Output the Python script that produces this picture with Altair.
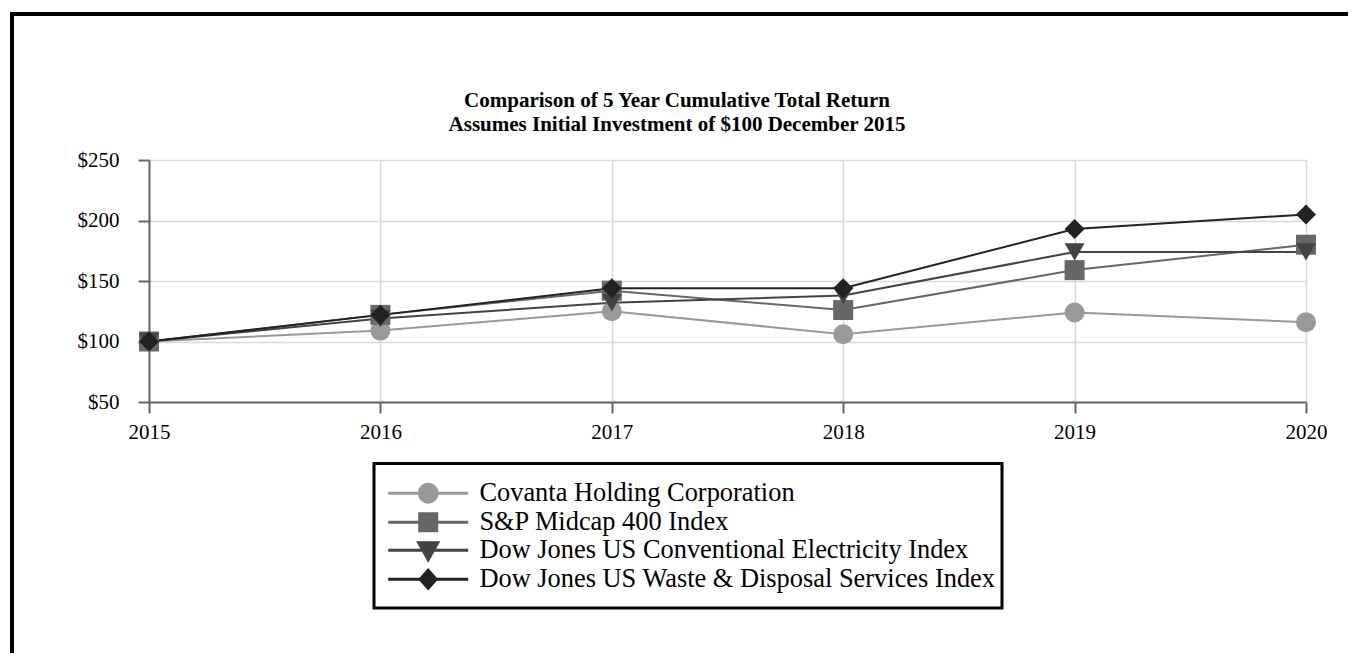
import altair as alt
import pandas as pd

# ---- data ----
years = [2015, 2016, 2017, 2018, 2019, 2020]
series_names = [
    "Covanta Holding Corporation",
    "S&P Midcap 400 Index",
    "Dow Jones US Conventional Electricity Index",
    "Dow Jones US Waste & Disposal Services Index",
]
covanta = [100, 109, 125, 106, 124, 116]
sp400 = [100, 122, 142, 126, 159, 180]
dj_electricity = [100, 119, 132, 138, 174, 174]
dj_waste = [100, 122, 144, 144, 193, 205]
y_ticks = [50, 100, 150, 200, 250]
title_line1 = ["Comparison of 5 Year Cumulative Total Return"]
title_line2 = ["Assumes Initial Investment of $100 December 2015"]

# ---- styles ----
colors = ["#999999", "#676767", "#434343", "#222222"]
marker_shapes = ["circle", "square", "triangle-down", "diamond"]
legend_shapes = [
    "M-4,0H4M0.9,0A0.9,0.9 0 1,1 -0.9,0A0.9,0.9 0 1,1 0.9,0Z",
    "M-4,0H4M-0.85,-0.85H0.85V0.85H-0.85Z",
    "M-4,0H4M-0.95,-0.75H0.95L0,0.95Z",
    "M-4,0H4M0,-0.9L0.8,0L0,0.9L-0.8,0Z",
]
FONT = "Liberation Serif"

rows = []
for name, vals in zip(series_names, [covanta, sp400, dj_electricity, dj_waste]):
    for yr, v in zip(years, vals):
        rows.append({"year": yr, "series": name, "value": v})
df = pd.DataFrame(rows)

x_enc = alt.X(
    "year:Q",
    scale=alt.Scale(domain=[2015, 2020], nice=False, zero=False),
    axis=alt.Axis(values=years, format="d", title=None, grid=True,
                  labelPadding=8, labelFlush=False),
)
y_enc = alt.Y(
    "value:Q",
    scale=alt.Scale(domain=[50, 250], nice=False, zero=False),
    axis=alt.Axis(values=y_ticks, labelExpr="'$' + datum.value", title=None,
                  labelPadding=19, labelFlush=False),
)

base = alt.Chart(df).encode(x=x_enc, y=y_enc)
color_scale = alt.Scale(domain=series_names, range=colors)

lines = base.mark_line(strokeWidth=2).encode(
    color=alt.Color("series:N", scale=color_scale, legend=None)
)
points = base.mark_point(filled=True, size=400, opacity=1).encode(
    color=alt.Color("series:N", scale=color_scale, legend=None),
    shape=alt.Shape("series:N",
                    scale=alt.Scale(domain=series_names, range=marker_shapes),
                    legend=None),
)

leg = alt.Legend(title=None, orient="none", legendX=239, legendY=320)
legend_layer = base.mark_point(filled=True, size=400, opacity=1).encode(
    fill=alt.Fill("series:N", scale=alt.Scale(domain=series_names, range=colors), legend=leg),
    stroke=alt.Stroke("series:N", scale=alt.Scale(domain=series_names, range=colors), legend=leg),
    shape=alt.Shape("series:N", scale=alt.Scale(domain=series_names, range=legend_shapes), legend=leg),
).transform_filter("datum.value < 0")

one = pd.DataFrame({"k": [0]})
frame_top = alt.Chart(one).mark_rule(color="black", strokeWidth=4).encode(
    x=alt.value(-139), x2=alt.value(1199), y=alt.value(-146)
)
frame_left = alt.Chart(one).mark_rule(color="black", strokeWidth=4).encode(
    x=alt.value(-137), y=alt.value(-148), y2=alt.value(495)
)
legend_box = alt.Chart(one).mark_rect(fill="white", fillOpacity=0, stroke="black",
                                      strokeWidth=3).encode(
    x=alt.value(225), x2=alt.value(853), y=alt.value(303.5), y2=alt.value(448)
)

title_style = dict(font=FONT, fontSize=21, fontWeight="bold", color="black",
                   align="center", baseline="alphabetic")
title1 = alt.Chart(pd.DataFrame({"t": title_line1})).mark_text(**title_style).encode(
    text="t:N", x=alt.value(528), y=alt.value(-53)
)
title2 = alt.Chart(pd.DataFrame({"t": title_line2})).mark_text(**title_style).encode(
    text="t:N", x=alt.value(528), y=alt.value(-29)
)

chart = (
    alt.layer(frame_top, frame_left, title1, title2, legend_box, lines, points, legend_layer)
    .resolve_scale(shape="independent", fill="independent", stroke="independent")
    .properties(
        width=1157,
        height=242,
        autosize=alt.AutoSizeParams(type="none"),
        padding={"left": 141, "top": 152, "right": 42, "bottom": 251},
    )
    .configure_view(stroke="transparent")
    .configure_axis(
        labelFont=FONT,
        labelFontSize=21,
        labelColor="black",
        domainColor="#666666",
        domainWidth=2,
        tickColor="#666666",
        tickWidth=2,
        tickSize=11,
        gridColor="#d9d9d9",
        gridWidth=1.5,
    )
    .configure_legend(
        labelFont=FONT,
        labelFontSize=26.4,
        labelColor="black",
        labelLimit=0,
        padding=0,
        symbolSize=400,
        symbolStrokeWidth=3,
        symbolOpacity=1,
        symbolOffset=27,
        labelOffset=38,
        rowPadding=-5,
    )
)

chart.save("out.html", embed_options={"renderer": "svg", "actions": False})
